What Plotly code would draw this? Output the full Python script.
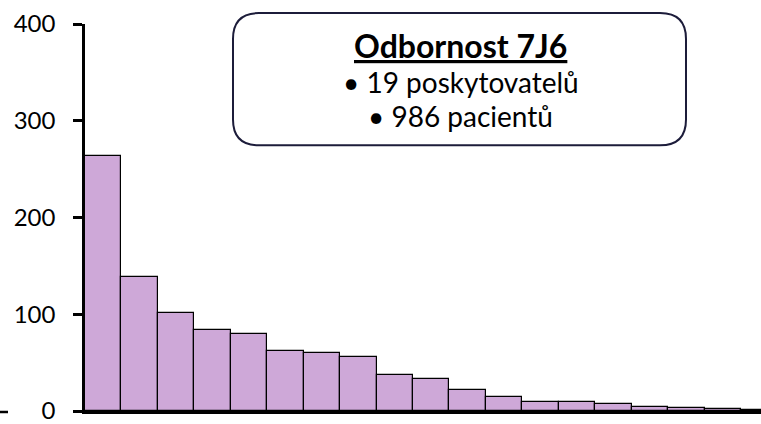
import plotly.graph_objects as go

# ---- data ----
providers = [f"P{i}" for i in range(1, 20)]
patients = [264, 138, 101, 84, 80, 62, 60, 56, 37, 33, 22, 14, 9, 9, 7, 4, 3, 2, 1]
y_tick_vals = [0, 100, 200, 300, 400]
title_text = "Odbornost 7J6"
info_lines = ["19 poskytovatelů", "986 pacientů"]

# ---- geometry helpers (pixel -> paper) ----
W, H = 761, 424
ML, MR, MT, MB = 85, 0, 24, 11
PW = W - ML - MR
PH = H - MT - MB


def px(xp):
    return (xp - ML) / PW


def py(yp):
    return (H - MB - yp) / PH


def rounded_rect(x0, y0, x1, y1, r):
    def P(x, y):
        return f"{px(x):.5f},{py(y):.5f}"
    return (
        f"M {P(x0 + r, y0)} L {P(x1 - r, y0)} Q {P(x1, y0)} {P(x1, y0 + r)} "
        f"L {P(x1, y1 - r)} Q {P(x1, y1)} {P(x1 - r, y1)} "
        f"L {P(x0 + r, y1)} Q {P(x0, y1)} {P(x0, y1 - r)} "
        f"L {P(x0, y0 + r)} Q {P(x0, y0)} {P(x0 + r, y0)} Z"
    )


fig = go.Figure(
    go.Bar(
        x=providers,
        y=patients,
        marker=dict(color="#CEA8D8", line=dict(color="black", width=1.2)),
        width=1,
    )
)

fig.update_layout(
    width=W,
    height=H,
    margin=dict(l=ML, r=MR, t=MT, b=MB, pad=0),
    paper_bgcolor="white",
    plot_bgcolor="white",
    showlegend=False,
    bargap=0,
    font=dict(family="Lato", color="black"),
)

fig.update_xaxes(
    range=[-0.5, 18.05],
    showticklabels=False,
    ticks="",
    showline=True,
    linecolor="black",
    linewidth=2.5,
    showgrid=False,
    zeroline=False,
)

fig.update_yaxes(
    range=[0, 400],
    tickvals=y_tick_vals,
    ticks="outside",
    ticklen=9,
    tickwidth=2.5,
    tickcolor="black",
    showline=True,
    linecolor="black",
    linewidth=2.5,
    showgrid=False,
    zeroline=False,
    tickfont=dict(family="Lato", size=24, color="black"),
    ticklabelstandoff=13,
    ticklabeloverflow="allow",
)

# info box
fig.add_shape(
    type="path",
    xref="paper",
    yref="paper",
    path=rounded_rect(233, 13, 686, 146, 26),
    line=dict(color="#1c1c3a", width=2),
    fillcolor="rgba(0,0,0,0)",
)

# small dash left of the axis at zero
fig.add_shape(
    type="line",
    xref="paper",
    yref="paper",
    x0=px(0), x1=px(8), y0=py(414), y1=py(414),
    line=dict(color="black", width=2.5),
)

cx = px(461)
fig.add_annotation(
    xref="paper", yref="paper", x=cx, y=py(46), xanchor="center", yanchor="middle",
    text=f"<b><u>{title_text}</u></b>", showarrow=False,
    font=dict(family="Lato", size=32, color="black"),
)
for line, yc in zip(info_lines, [82, 116.5]):
    fig.add_annotation(
        xref="paper", yref="paper", x=cx, y=py(yc), xanchor="center", yanchor="middle",
        text=f"• {line}", showarrow=False,
        font=dict(family="Lato", size=28, color="black"),
    )

fig.write_html(
    "out.html",
    config={"displayModeBar": False},
    post_script="document.body.style.margin='0';",
)
